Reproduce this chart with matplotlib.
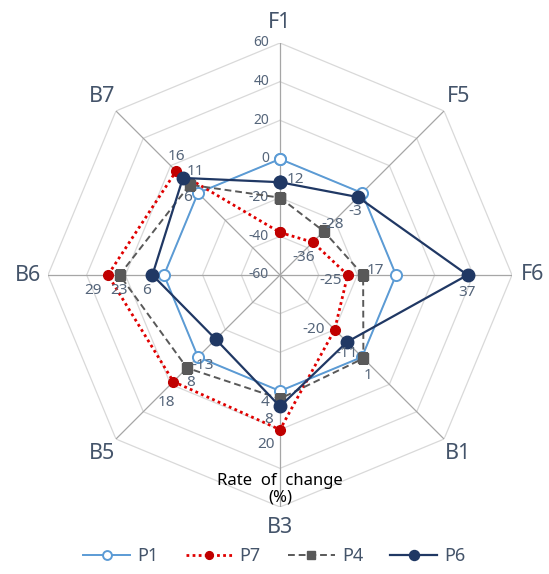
import numpy as np
import matplotlib
matplotlib.use("Agg")
import matplotlib.pyplot as plt

plt.rcParams['font.family'] = ['Noto Sans', 'DejaVu Sans']

categories = ["F1", "F5", "F6", "B1", "B3", "B5", "B6", "B7"]
p1 = [0, 0, 0, 0, 0, 0, 0, 0]
p7 = [-38, -36, -25, -20, 20, 18, 29, 16]
p4 = [-20, -28, -17, 1, 4, 8, 23, 6]
p6 = [-12, -3, 37, -11, 8, -13, 6, 11]
ticks = [-60, -40, -20, 0, 20, 40, 60]

# visible data-label text (as shown in the picture)
p7_labels = ["", "-36", "-25", "-20", "20", "18", "29", "16"]
p4_labels = ["", "-28", "17", "1", "4", "8", "23", "6"]
p6_labels = ["12", "-3", "37", "-11", "8", "-13", "6", "11"]

# label offsets in pixels (dx, dy)
p7_off = [(0, 0), (-9, -15), (-17, -6), (-21, 0), (-14, -15), (-7, -21), (-15, -16), (0, 15)]
p4_off = [(0, 0), (9, 7), (12, 5), (5, -17), (-15, -4), (4, -15), (-1, -16), (-2, -13)]
p6_off = [(15, 3), (-3, -14), (0, -18), (0, -12), (-11, -13), (-13, -26), (-6, -16), (12, 6)]

label_col = "#44546A"
num_col = "#55657A"

n = len(categories)
theta = np.arange(n) * 2 * np.pi / n
theta_c = np.append(theta, theta[0])

fig = plt.figure(figsize=(5.49, 5.74), dpi=100)
ax = fig.add_axes([48 / 549, 1 - 507 / 574, 464 / 549, 464 / 574], projection='polar')
ax.set_theta_zero_location('N')
ax.set_theta_direction(-1)
ax.set_ylim(ticks[0], ticks[-1])
ax.grid(False)
ax.set_xticks([])
ax.set_yticks([])
ax.spines['polar'].set_visible(False)
ax.patch.set_alpha(0)

# polygon grid
for t in ticks[1:]:
    ax.plot(theta_c, [t] * (n + 1), color="#D9D9D9", lw=0.9, zorder=1)
for th in theta:
    ax.plot([th, th], [ticks[0], ticks[-1]], color="#A6A6A6", lw=0.9, zorder=1)

# tick labels along F1 axis
for t in ticks:
    ax.annotate(str(t), xy=(0, t), xytext=(-11, 0), textcoords='offset pixels',
                ha='right', va='center', fontsize=10, color=num_col, zorder=2)

# category labels
for th, c in zip(theta, categories):
    ax.text(th, 70.5, c, ha='center', va='center', fontsize=15.5, color=label_col,
            clip_on=False)

def closed(v):
    return list(v) + [v[0]]

ax.plot(theta_c, closed(p1), color="#5B9BD5", lw=1.4, marker='o', ms=8,
        mfc='white', mec="#5B9BD5", mew=1.4, label="P1", zorder=3)
ax.plot(theta_c, closed(p7), color="#E00000", lw=2.0, ls=(0, (1, 1.2)), marker='o', ms=7,
        mfc="#C00000", mec="#C00000", label="P7", zorder=4)
ax.plot(theta_c, closed(p4), color="#595959", lw=1.4, ls=(0, (3.5, 2)), marker='s', ms=7,
        mfc="#595959", mec="#595959", label="P4", zorder=5)
ax.plot(theta_c, closed(p6), color="#203864", lw=1.6, marker='o', ms=9,
        mfc="#203864", mec="#203864", label="P6", zorder=6)

for vals, labs, offs in [(p7, p7_labels, p7_off), (p4, p4_labels, p4_off), (p6, p6_labels, p6_off)]:
    for th, v, s, o in zip(theta, vals, labs, offs):
        if s:
            ax.annotate(s, xy=(th, v), xytext=o, textcoords='offset pixels',
                        ha='center', va='center', fontsize=11, color=num_col, zorder=7)

fig.text(280 / 549, 1 - 481 / 574, "Rate  of  change", ha='center', va='center',
         fontsize=12, color='black')
fig.text(280 / 549, 1 - 498 / 574, "(%)", ha='center', va='center',
         fontsize=12, color='black')

leg = fig.legend(loc='center', bbox_to_anchor=(0.5, 1 - 556 / 574), ncol=4, frameon=False,
                 fontsize=13, handlelength=2.6, columnspacing=1.5, handletextpad=0.4,
                 markerscale=0.8, labelcolor=label_col)

fig.savefig("out.png", dpi=100)
